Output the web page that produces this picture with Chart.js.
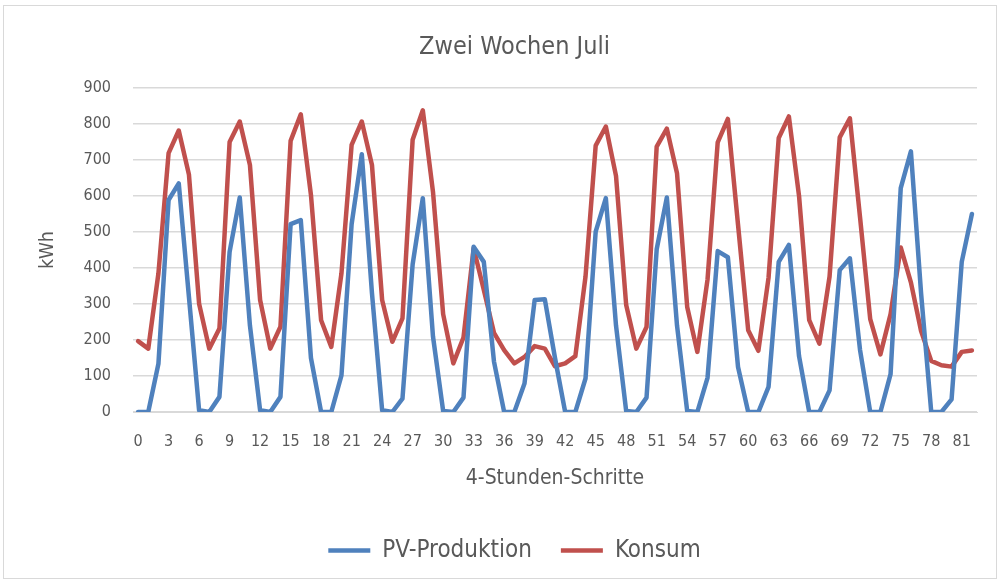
<!DOCTYPE html>
<html>
<head>
<meta charset="utf-8">
<script src="https://cdn.jsdelivr.net/npm/chart.js@4.4.1/dist/chart.umd.min.js"></script>
<style>
  html, body { margin: 0; padding: 0; background: #fff; }
  #frame { position: absolute; left: 3px; top: 5px; width: 992px; height: 572px; border: 1px solid #d9d9d9; }
  #wrap { position: absolute; left: 0; top: 0; width: 999px; height: 579px; }
</style>
</head>
<body>
<div id="frame"></div>
<div id="wrap"><canvas id="myChart" width="999" height="579"></canvas></div>
<script>
// values, one point per 4 hours
var pvProduktion = [
  0, 0, 134, 589, 635, 320,
  5, 0, 42, 445, 596, 240,
  5, 0, 42, 522, 533, 150,
  0, 0, 102, 522, 716, 330,
  5, 0, 37, 410, 594, 210,
  3, 0, 40, 459, 417, 140,
  0, 0, 79, 311, 313, 150,
  0, 0, 93, 501, 594, 240,
  3, 0, 40, 452, 596, 240,
  3, 0, 95, 447, 430, 125,
  0, 0, 70, 417, 464, 155,
  0, 0, 60, 394, 427, 172,
  0, 0, 105, 622, 724, 330,
  0, 0, 35, 417, 550
];
var konsum = [
  197, 176, 385, 719, 782, 660,
  301, 176, 232, 750, 807, 686,
  311, 176, 237, 753, 827, 603,
  255, 181, 385, 742, 807, 686,
  311, 195, 260, 756, 838, 612,
  272, 135, 207, 455, 339, 220,
  172, 135, 153, 183, 176, 127,
  135, 155, 376, 740, 793, 656,
  297, 176, 236, 737, 787, 663,
  292, 167, 368, 749, 814, 520,
  227, 170, 373, 761, 821, 600,
  255, 190, 376, 763, 816, 540,
  258, 160, 272, 457, 360, 225,
  142, 130, 126, 167, 171
];
var schritte = pvProduktion.map(function (v, i) { return String(i); });

var fontName = '"Liberation Sans Narrow", "DejaVu Sans Condensed", "Open Sans", sans-serif';
var grau = '#595959';
var gitter = '#d9d9d9';

var area = document.getElementById('myChart');
new Chart(area, {
  type: 'line',
  data: {
    labels: schritte,
    datasets: [{
      label: 'PV-Produktion',
      data: pvProduktion,
      borderColor: '#4f81bd',
      backgroundColor: '#4f81bd',
      borderWidth: 4.5,
      pointRadius: 0,
      borderJoinStyle: 'round',
      borderCapStyle: 'round',
      tension: 0
    }, {
      label: 'Konsum',
      data: konsum,
      borderColor: '#c0504d',
      backgroundColor: '#c0504d',
      borderWidth: 4.5,
      pointRadius: 0,
      borderJoinStyle: 'round',
      borderCapStyle: 'round',
      tension: 0
    }]
  },
  options: {
    responsive: false,
    animation: false,
    layout: { padding: { left: 52, right: 22, top: 0, bottom: 6.5 } },
    plugins: {
      title: {
        display: true,
        text: 'Zwei Wochen Juli',
        color: grau,
        font: { family: fontName, size: 25, weight: 'normal' },
        padding: { top: 32, bottom: 26 }
      },
      legend: {
        position: 'bottom',
        labels: {
          usePointStyle: true,
          pointStyle: 'line',
          pointStyleWidth: 42,
          padding: 29,
          color: grau,
          font: { family: fontName, size: 24 }
        }
      },
      tooltip: { enabled: false }
    },
    scales: {
      x: {
        type: 'category',
        offset: true,
        grid: { display: false, drawTicks: false },
        border: { color: gitter, width: 1 },
        ticks: {
          autoSkip: false,
          maxRotation: 0,
          padding: 20,
          color: grau,
          font: { family: fontName, size: 16 },
          callback: function (val, idx) { return idx % 3 === 0 ? this.getLabelForValue(val) : ''; }
        },
        title: {
          display: true,
          text: '4-Stunden-Schritte',
          color: grau,
          font: { family: fontName, size: 21 },
          padding: { top: 4, bottom: 18 }
        },
        afterFit: function (scale) { scale.height = 97.5; }
      },
      y: {
        min: 0,
        max: 900,
        grid: { color: gitter, lineWidth: 1.5, drawTicks: false },
        border: { display: false },
        ticks: {
          stepSize: 100,
          padding: 22,
          color: grau,
          font: { family: fontName, size: 16 }
        },
        title: {
          display: true,
          text: 'kWh',
          color: grau,
          font: { family: fontName, size: 19 },
          padding: { top: -15, bottom: 0 }
        },
        afterFit: function (scale) { scale.width = 81; }
      }
    }
  }
});
</script>
</body>
</html>
